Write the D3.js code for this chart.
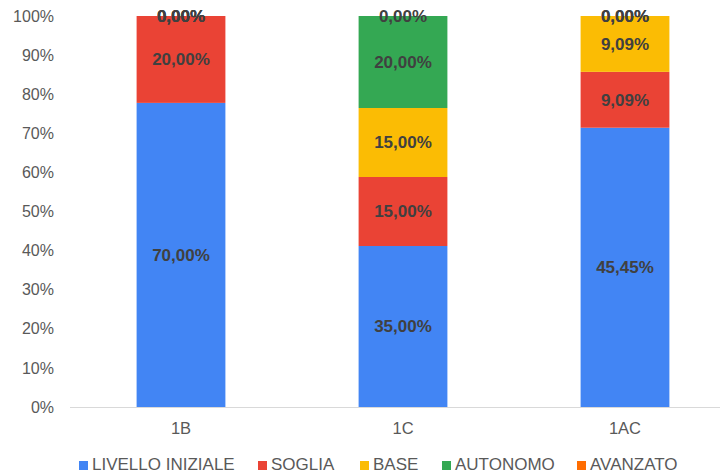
<!DOCTYPE html>
<html>
<head>
<meta charset="utf-8">
<script src="https://cdn.jsdelivr.net/npm/d3@7"></script>
<style>
  body { margin: 0; background: #fff; }
  svg { font-family: "Liberation Sans", Arial, sans-serif; }
</style>
</head>
<body>
<div id="chart"></div>
<script>
// classes and levels
const classes = ["1B", "1C", "1AC"];
const levels = ["LIVELLO INIZIALE", "SOGLIA", "BASE", "AUTONOMO", "AVANZATO"];
const colors = ["#4285F4", "#EA4335", "#FBBC04", "#34A853", "#FF6D01"];

// percent values per level, one entry per class
const livelloIniziale = [70.00, 35.00, 45.45];
const soglia = [20.00, 15.00, 9.09];
const base = [0, 15.00, 9.09];
const autonomo = [0, 20.00, 0];
const avanzato = [0, 0, 0];

const yTicks = [0, 0.1, 0.2, 0.3, 0.4, 0.5, 0.6, 0.7, 0.8, 0.9, 1];

const width = 725, height = 476;
const seriesValues = [livelloIniziale, soglia, base, autonomo, avanzato];

// build rows for stacking
const rows = classes.map(function(c, i) {
    const row = {cls: c};
    levels.forEach(function(l, j) { row[l] = seriesValues[j][i]; });
    return row;
});

const stacked = d3.stack().keys(levels).offset(d3.stackOffsetExpand)(rows);

const svg = d3.select("#chart")
    .append("svg")
    .attr("width", width)
    .attr("height", height);

const x = d3.scaleBand()
    .domain(classes)
    .range([70, 736])
    .paddingInner(0.6)
    .paddingOuter(0.3);

const y = d3.scaleLinear()
    .domain([0, 1])
    .range([407, 16]);

// y axis labels
svg.append("g")
    .selectAll("text")
    .data(yTicks)
    .enter()
    .append("text")
    .attr("x", 54)
    .attr("y", function(d) { return y(d); })
    .attr("dy", "0.35em")
    .attr("text-anchor", "end")
    .attr("font-size", 16)
    .attr("fill", "#595959")
    .text(function(d) { return Math.round(d * 100) + "%"; });

// bars
const layers = svg.append("g")
    .selectAll("g")
    .data(stacked)
    .enter()
    .append("g")
    .attr("fill", function(d, i) { return colors[i]; });

layers.selectAll("rect")
    .data(function(d) { return d; })
    .enter()
    .append("rect")
    .attr("x", function(d) { return x(d.data.cls); })
    .attr("width", x.bandwidth())
    .attr("y", function(d) { return y(d[1]); })
    .attr("height", function(d) { return y(d[0]) - y(d[1]); });

// baseline
svg.append("line")
    .attr("x1", 70).attr("x2", 720)
    .attr("y1", y(0) + 0.5).attr("y2", y(0) + 0.5)
    .attr("stroke", "#d9d9d9")
    .attr("stroke-width", 1);

// category labels
svg.append("g")
    .selectAll("text")
    .data(classes)
    .enter()
    .append("text")
    .attr("x", function(d) { return x(d) + x.bandwidth() / 2; })
    .attr("y", 434)
    .attr("text-anchor", "middle")
    .attr("font-size", 16.5)
    .attr("fill", "#595959")
    .text(function(d) { return d; });

// data labels
const fmt = function(v) { return v.toFixed(2).replace(".", ",") + "%"; };
stacked.forEach(function(layer) {
    svg.append("g")
        .selectAll("text")
        .data(layer)
        .enter()
        .append("text")
        .attr("x", function(d) { return x(d.data.cls) + x.bandwidth() / 2; })
        .attr("y", function(d) { return (y(d[0]) + y(d[1])) / 2; })
        .attr("dy", "0.35em")
        .attr("text-anchor", "middle")
        .attr("font-size", 17)
        .attr("font-weight", "bold")
        .attr("fill", "#404040")
        .text(function(d) { return fmt(d.data[layer.key]); });
});

// legend
const legendX = [79, 258, 360, 442, 577];
const legend = svg.append("g")
    .selectAll("g")
    .data(levels)
    .enter()
    .append("g")
    .attr("transform", function(d, i) { return "translate(" + legendX[i] + ",465)"; });

legend.append("rect")
    .attr("x", 0).attr("y", -4)
    .attr("width", 9).attr("height", 9)
    .attr("fill", function(d, i) { return colors[i]; });

legend.append("text")
    .attr("x", 13)
    .attr("y", 5)
    .attr("font-size", 17)
    .attr("fill", "#595959")
    .text(function(d) { return d; });
</script>
</body>
</html>
